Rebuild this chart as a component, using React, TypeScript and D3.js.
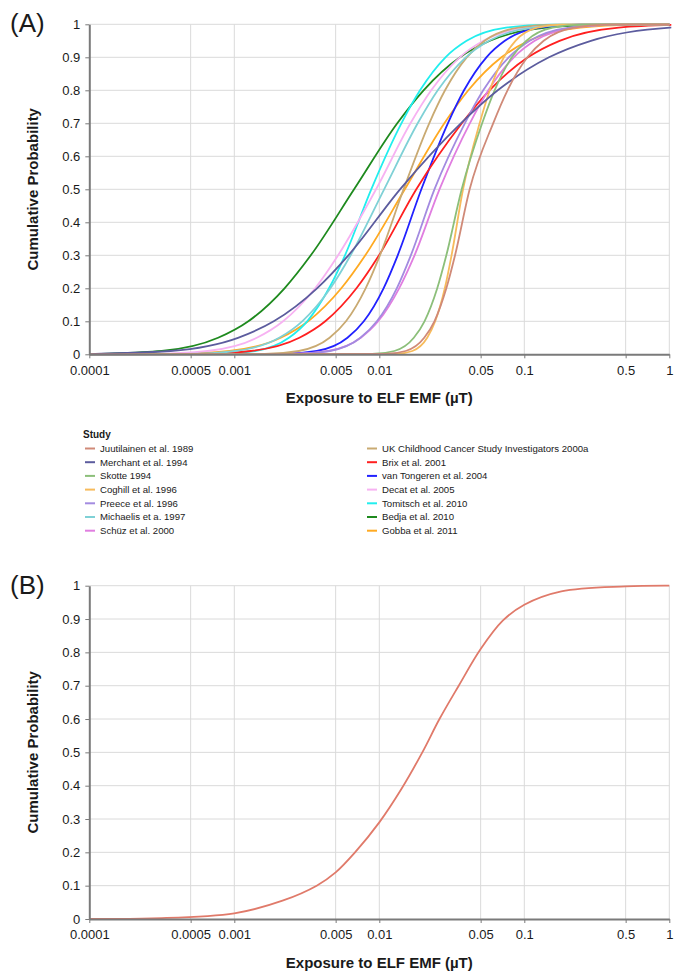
import React, { useEffect, useRef } from "react";
import * as d3 from "d3";

const W = 684;
const H = 979;
const FONT = "'Liberation Sans', Arial, sans-serif";

const xTicks = [0.0001, 0.0005, 0.001, 0.005, 0.01, 0.05, 0.1, 0.5, 1];
const xTickLabels = ["0.0001", "0.0005", "0.001", "0.005", "0.01", "0.05", "0.1", "0.5", "1"];
const yTicks = [0, 0.1, 0.2, 0.3, 0.4, 0.5, 0.6, 0.7, 0.8, 0.9, 1];
const yTickLabels = ["0", "0.1", "0.2", "0.3", "0.4", "0.5", "0.6", "0.7", "0.8", "0.9", "1"];

const studyNames = [
  "Juutilainen et al. 1989",
  "Merchant et al. 1994",
  "Skotte 1994",
  "Coghill et al. 1996",
  "Preece et al. 1996",
  "Michaelis et a. 1997",
  "Schüz et al. 2000",
  "UK Childhood Cancer Study Investigators 2000a",
  "Brix et al. 2001",
  "van Tongeren et al. 2004",
  "Decat et al. 2005",
  "Tomitsch et al. 2010",
  "Bedja et al. 2010",
  "Gobba et al. 2011",
];
const studyColors = [
  "#d08a78", "#5c5c9e", "#8cbf7a", "#f7bb5c", "#a38be0", "#7fd1d6", "#e07ee0",
  "#c9aa72", "#ff2020", "#2222ff", "#f7b2f2", "#22eeee", "#1e8a1e", "#ffaa22",
];

const probLevels = [0.001, 0.01, 0.05, 0.1, 0.2, 0.3, 0.5, 0.7, 0.8, 0.9, 0.95, 0.99, 0.999];

// exposure (µT) reached at each probability level, one list per study
const juutilainen = [0.0109, 0.0152, 0.0204, 0.024, 0.029, 0.0333, 0.042, 0.061, 0.0766, 0.105, 0.136, 0.221, 0.381];
const merchant = [0.00011, 0.000364, 0.00106, 0.00187, 0.00372, 0.00612, 0.0139, 0.0365, 0.0656, 0.148, 0.288, 1.01, 4.12];
const skotte = [0.00891, 0.0127, 0.0173, 0.0205, 0.0251, 0.029, 0.037, 0.0512, 0.0624, 0.082, 0.103, 0.157, 0.252];
const coghill = [0.013, 0.0169, 0.0214, 0.0243, 0.0283, 0.0315, 0.0378, 0.0492, 0.0578, 0.0723, 0.0869, 0.123, 0.181];
const preece = [0.00264, 0.00456, 0.00741, 0.00962, 0.0132, 0.0165, 0.024, 0.0389, 0.0521, 0.0781, 0.109, 0.204, 0.413];
const michaelis = [0.000471, 0.00102, 0.00204, 0.00294, 0.0046, 0.00634, 0.0108, 0.0184, 0.0253, 0.0395, 0.0571, 0.114, 0.247];
const schuz = [0.00248, 0.00444, 0.00745, 0.00982, 0.0137, 0.0175, 0.026, 0.0421, 0.0565, 0.0847, 0.118, 0.221, 0.448];
const ukccs = [0.00162, 0.00279, 0.00454, 0.00589, 0.00805, 0.0101, 0.0147, 0.0221, 0.0284, 0.0401, 0.0532, 0.0908, 0.165];
const brix = [0.000551, 0.0013, 0.00281, 0.00424, 0.00696, 0.00996, 0.018, 0.0371, 0.0575, 0.106, 0.175, 0.448, 1.29];
const vanTongeren = [0.00215, 0.00371, 0.00603, 0.00782, 0.0107, 0.0134, 0.0195, 0.0297, 0.0384, 0.0548, 0.0734, 0.127, 0.235];
const decat = [0.000271, 0.000653, 0.00143, 0.00217, 0.00361, 0.0052, 0.0095, 0.0164, 0.0228, 0.0359, 0.0522, 0.106, 0.234];
const tomitsch = [0.000755, 0.00139, 0.00238, 0.00318, 0.0045, 0.0058, 0.0088, 0.0142, 0.0191, 0.0286, 0.04, 0.0748, 0.151];
const bedja = [0.000116, 0.000316, 0.000773, 0.00125, 0.00222, 0.00337, 0.0067, 0.0133, 0.0202, 0.036, 0.058, 0.142, 0.386];
const gobba = [0.000371, 0.000926, 0.00209, 0.00323, 0.00547, 0.00801, 0.015, 0.0281, 0.0411, 0.0696, 0.107, 0.243, 0.607];

const studyQuantiles = [
  juutilainen, merchant, skotte, coghill, preece, michaelis, schuz,
  ukccs, brix, vanTongeren, decat, tomitsch, bedja, gobba,
];

// panel B: pooled distribution
const pooledExposure = [0.0001, 0.00027, 0.001, 0.00215, 0.0037, 0.005, 0.0068, 0.01, 0.0142, 0.0198, 0.026, 0.0353, 0.05, 0.071, 0.1, 0.18, 0.5, 1];
const pooledProb = [0, 0.002, 0.017, 0.055, 0.1, 0.14, 0.2, 0.29, 0.39, 0.5, 0.6, 0.7, 0.81, 0.895, 0.943, 0.983, 0.998, 1];
const pooledColor = "#e07a6a";

const plotLeft = 89.3;
const plotRight = 669.3;

function drawPanel(svg: any, id: string, top: number, bottom: number, label: string, curves: { pts: number[][]; color: string }[], curve: any) {
  const x = d3.scaleLog().domain([0.0001, 1]).range([plotLeft, plotRight]);
  const y = d3.scaleLinear().domain([0, 1]).range([bottom, top]);
  const g = svg.append("g");

  g.selectAll(".vgrid")
    .data(xTicks.slice(1))
    .join("line")
    .attr("x1", (d: number) => x(d))
    .attr("x2", (d: number) => x(d))
    .attr("y1", top)
    .attr("y2", bottom)
    .attr("stroke", "#dadada")
    .attr("stroke-width", 1);

  g.selectAll(".hgrid")
    .data(yTicks.slice(1))
    .join("line")
    .attr("x1", plotLeft)
    .attr("x2", plotRight)
    .attr("y1", (d: number) => y(d))
    .attr("y2", (d: number) => y(d))
    .attr("stroke", "#dadada")
    .attr("stroke-width", 1);

  svg.append("clipPath")
    .attr("id", id)
    .append("rect")
    .attr("x", plotLeft)
    .attr("y", top - 3)
    .attr("width", plotRight - plotLeft + 2)
    .attr("height", bottom - top + 4);

  const line = d3.line<number[]>()
    .x(d => x(d[0]))
    .y(d => y(Math.max(0, d[1])))
    .curve(curve);

  const cg = g.append("g").attr("clip-path", `url(#${id})`);
  curves.forEach(c => {
    cg.append("path")
      .attr("d", line(c.pts))
      .attr("fill", "none")
      .attr("stroke", c.color)
      .attr("stroke-width", 1.8);
  });

  const xAxis = d3.axisBottom(x)
    .tickValues(xTicks)
    .tickFormat((d: any, i: number) => xTickLabels[i])
    .tickSize(4)
    .tickSizeOuter(0)
    .tickPadding(7);
  const xa = g.append("g").attr("transform", `translate(0,${bottom})`).call(xAxis);

  const yAxis = d3.axisLeft(y)
    .tickValues(yTicks)
    .tickFormat((d: any, i: number) => yTickLabels[i])
    .tickSize(4)
    .tickSizeOuter(0)
    .tickPadding(5);
  const ya = g.append("g").attr("transform", `translate(${plotLeft},0)`).call(yAxis);

  [xa, ya].forEach(a => {
    a.select(".domain").attr("stroke", "#7a7a7a").attr("stroke-width", 2);
    a.selectAll(".tick line").attr("stroke", "#7a7a7a");
    a.selectAll(".tick text")
      .attr("fill", "#1a1a1a")
      .style("font-family", FONT)
      .style("font-size", "13px");
  });

  g.append("text")
    .attr("x", 10)
    .attr("y", top + 8)
    .text(label)
    .style("font-family", FONT)
    .style("font-size", "26px")
    .attr("fill", "#1a1a1a");

  g.append("text")
    .attr("transform", `translate(38,${(top + bottom) / 2}) rotate(-90)`)
    .attr("text-anchor", "middle")
    .text("Cumulative Probability")
    .style("font-family", FONT)
    .style("font-size", "15px")
    .style("font-weight", "bold")
    .attr("fill", "#1a1a1a");

  g.append("text")
    .attr("x", (plotLeft + plotRight) / 2)
    .attr("y", bottom + 49)
    .attr("text-anchor", "middle")
    .text("Exposure to ELF EMF (µT)")
    .style("font-family", FONT)
    .style("font-size", "15px")
    .style("font-weight", "bold")
    .attr("fill", "#1a1a1a");
}

export default function App() {
  const ref = useRef<SVGSVGElement | null>(null);

  useEffect(() => {
    const svg = d3.select(ref.current);
    svg.selectAll("*").remove();

    const curvesA = studyQuantiles.map((q, i) => {
      const pts: number[][] = [[0.0001, 0]];
      q.forEach((v, j) => pts.push([v, probLevels[j]]));
      if (q[q.length - 1] < 1) pts.push([1, 1]);
      return { pts, color: studyColors[i] };
    }).reverse();

    drawPanel(svg, "clipA", 24.3, 354.3, "(A)", curvesA, d3.curveMonotoneX);

    const pooledPts = pooledExposure.map((v, i) => [v, pooledProb[i]]);
    drawPanel(svg, "clipB", 585.7, 919, "(B)", [{ pts: pooledPts, color: pooledColor }], d3.curveCatmullRom.alpha(0.5));

    // legend
    const leg = svg.append("g");
    leg.append("text")
      .attr("x", 83)
      .attr("y", 438)
      .text("Study")
      .style("font-family", FONT)
      .style("font-size", "10px")
      .style("font-weight", "bold")
      .attr("fill", "#1a1a1a");

    const rows = 7;
    studyNames.forEach((name, i) => {
      const col = Math.floor(i / rows);
      const row = i % rows;
      const sx = col === 0 ? 85 : 367;
      const cy = 448.5 + row * 13.7;
      leg.append("line")
        .attr("x1", sx)
        .attr("x2", sx + 10)
        .attr("y1", cy)
        .attr("y2", cy)
        .attr("stroke", studyColors[i])
        .attr("stroke-width", 2);
      leg.append("text")
        .attr("x", sx + 15)
        .attr("y", cy + 3.4)
        .text(name)
        .style("font-family", FONT)
        .style("font-size", "9.6px")
        .attr("fill", "#1a1a1a");
    });
  }, []);

  return (
    <svg
      ref={ref}
      width={W}
      height={H}
      style={{ position: "absolute", left: 0, top: 0, background: "#fff" }}
    />
  );
}
